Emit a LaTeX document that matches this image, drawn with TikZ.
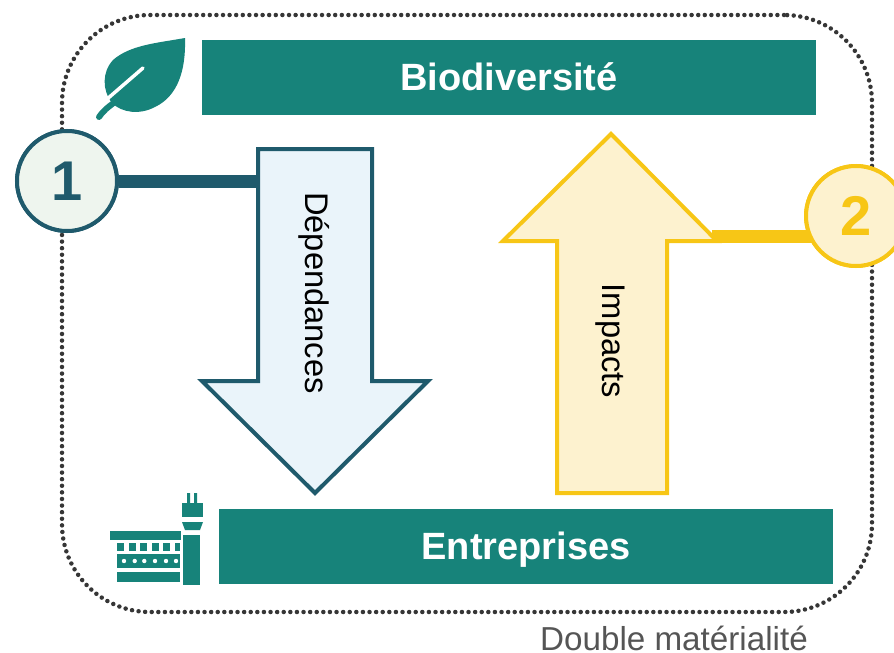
\documentclass[tikz,border=0pt]{standalone}
\usepackage{fontspec}
\setmainfont{Liberation Sans}
\definecolor{barteal}{HTML}{17837A}
\definecolor{deplin}{HTML}{1F5A6C}
\definecolor{depfill}{HTML}{EAF4FA}
\definecolor{numfill}{HTML}{EEF5EE}
\definecolor{implin}{HTML}{F7C616}
\definecolor{impfill}{HTML}{FDF2CF}
\definecolor{framecol}{HTML}{363636}
\definecolor{notecol}{HTML}{555555}
\newcommand{\barheight}{75pt}
\tikzset{
  bar/.style={fill=barteal, text=white, minimum width=614pt, minimum height=\barheight,
    inner sep=0pt, text depth=0pt, font=\fontsize{38}{40}\selectfont\bfseries},
  num/.style={draw, circle, line width=4pt, minimum size=100pt, inner sep=0pt,
    font=\fontsize{56}{60}\selectfont\bfseries},
  arrowlabel/.style={rotate=-90, inner sep=0pt, text=black, font=\fontsize{32.7}{36}\selectfont}
}

\begin{document}
\begin{tikzpicture}[x=1pt,y=-1pt]
  \useasboundingbox (0,0) rectangle (894,653);

  % frame
  \node (frame) at (467,313.5) [draw=framecol, rounded corners=88pt, line width=4.5pt, line cap=round,
    dash pattern=on 0pt off 6.6pt, minimum width=810pt, minimum height=597pt] {};
  \node (note) at (674,638.5) [text=notecol, inner sep=0pt, font=\fontsize{33.2}{36}\selectfont] {Double matérialité};

  % bars
  \node (bio) at (509,77) [bar] {Biodiversité};
  \node (ent) at (526,546) [bar] {Entreprises};

  % connectors, under the arrows and the circles
  \coordinate (deparm) at (262,181);
  \coordinate (imparm) at (712,236);
  \node (one) at (67,181) [num, draw=deplin, fill=numfill, text=deplin] {1};
  \node (two) at (856,216) [num, draw=implin, fill=impfill, text=implin] {2};
  \draw[deplin, line width=13pt] (one) to (deparm);
  \draw[implin, line width=13pt] (imparm) to (imparm -| two);
  \node at (one) [num, draw=deplin, fill=numfill, text=deplin] {1};
  \node at (two) [num, draw=implin, fill=impfill, text=implin] {2};

  % arrows
  \draw[deplin, fill=depfill, line width=4pt, line join=miter]
    (258,149) -- (372,149) -- (372,381) -- (428,381) -- (315,493) -- (202,381) -- (258,381) -- cycle;
  \node (dep) at (314,293) [arrowlabel] {Dépendances};
  \draw[implin, fill=impfill, line width=4pt, line join=miter]
    (611,134) -- (717,241) -- (667,241) -- (667,493) -- (557,493) -- (557,241) -- (503,241) -- cycle;
  \node (imp) at (610,341) [arrowlabel] {Impacts};

  % leaf
  \fill[barteal] (185,38) .. controls (157,43) and (130,45) .. (113,60)
    .. controls (102,72) and (102,90) .. (112,103)
    .. controls (122,113) and (140,115) .. (155,107)
    .. controls (178,96) and (186,70) .. (185,38) -- cycle;
  \draw[white, line width=3.5pt, line cap=round] (106,100) -- (143,68);
  \draw[barteal, line width=6pt, line cap=round] (99,117) .. controls (103,111) and (108,107) .. (115,102);

  % factory
  \fill[barteal] (187,493) rectangle (190,504) (194,493) rectangle (197,504);
  \fill[barteal] (182,503) rectangle (203,517);
  \fill[barteal] (182,522) -- (203,522) -- (200,530) -- (185,530) -- cycle;
  \fill[barteal] (183,535) rectangle (200,585);
  \fill[barteal] (110,531) rectangle (181,540);
  \foreach \x/\w in {117/7,128.5/7,140/7,151.5/7,163/7,175/5}
    \fill[barteal] (\x,543) rectangle (\x+\w,551);
  \fill[barteal] (117,554) rectangle (180,568);
  \foreach \x in {124,134.7,144.3,155,166,176}
    \fill[white] (\x,561) circle (2.2);
  \fill[barteal] (117,572) rectangle (180,582);
\end{tikzpicture}
\end{document}
